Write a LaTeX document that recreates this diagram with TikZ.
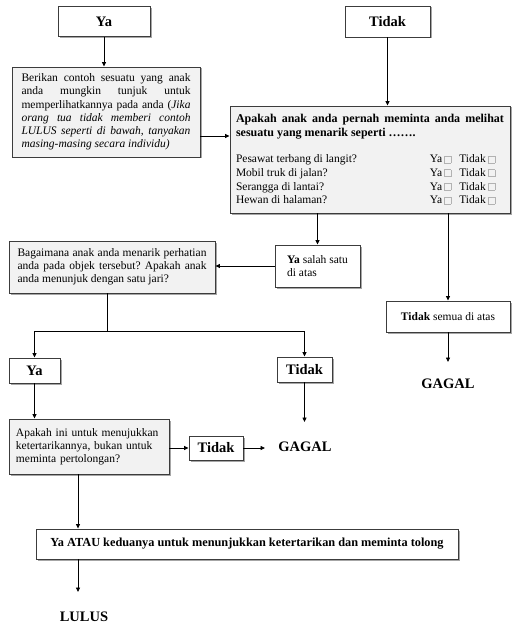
\documentclass[tikz,border=0pt]{standalone}
\usepackage{fontspec}
\setmainfont{Liberation Serif}
\usetikzlibrary{arrows.meta,shadows}
\definecolor{boxgray}{HTML}{F2F2F2}
\definecolor{edgec}{HTML}{3C3C3C}
\frenchspacing
\hyphenpenalty=10000
\exhyphenpenalty=10000
\newcommand\cbx{{\color{gray!60}\setlength\fboxrule{0.4pt}\setlength\fboxsep{0pt}\fbox{\rule{0pt}{6.5pt}\hspace{6.5pt}}}}
\newcommand\yt{\hfill Ya\,\cbx\hspace{8pt}Tidak\,\cbx\rule{9pt}{0pt}}
\begin{document}
\begin{tikzpicture}[x=1pt,y=-1pt,
 box/.style={draw=edgec, line width=0.9pt, fill=white, inner sep=0pt,
   drop shadow={shadow xshift=1.5pt,shadow yshift=-1.5pt,fill=black,opacity=0.35}},
 graybox/.style={box, fill=boxgray},
 conn/.style={draw=black, line width=0.8pt},
 arr/.style={conn, -{Triangle[length=4.5pt,width=4pt]}},
 big/.style={font=\fontsize{14.5}{16}\selectfont\bfseries},
 body/.style={font=\fontsize{11.5}{13.2}\selectfont},
 result/.style={font=\fontsize{14.5}{16}\selectfont\bfseries, inner sep=0pt}
]
\useasboundingbox (0,0) rectangle (526,636);

% top answers
\node[box, big, minimum width=92, minimum height=30] (ya1) at (104,21.5) {Ya};
\node[box, big, minimum width=85, minimum height=31] (tidak1) at (387.5,21.5) {Tidak};

% Berikan box
\node[graybox, body, minimum width=188, minimum height=90, text width=169, align=justify] (berikan) at (106,112)
 {Berikan contoh sesuatu yang anak\linebreak anda mungkin tunjuk untuk\linebreak memperlihatkannya pada anda (\textit{Jika\linebreak orang tua tidak memberi contoh\linebreak LULUS seperti di bawah, tanyakan\linebreak masing-masing secara individu)}};

% main question box
\node[graybox, minimum width=280, minimum height=107, text width=268, align=justify,
  font=\fontsize{11.5}{13.8}\selectfont] (main) at (370,159.5)
 {{\fontsize{12}{13.8}\selectfont\bfseries Apakah anak anda pernah meminta anda melihat\linebreak sesuatu yang menarik seperti …….}\par\vspace{12pt}
 Pesawat terbang di langit?\yt\par
 Mobil truk di jalan?\yt\par
 Serangga di lantai?\yt\par
 Hewan di halaman?\yt};

\node[box, body, minimum width=85, minimum height=42, align=left] (yasalah) at (317.5,266)
 {\textbf{Ya} salah satu\\di atas};
\node[box, body, minimum width=124, minimum height=31] (tidaksemua) at (448,316.5)
 {\textbf{Tidak} semua di atas};
\node[result] (gagal1) at (448,384) {GAGAL};
\coordinate (g1in) at (448,362);

% Bagaimana box
\node[graybox, body, minimum width=206, minimum height=52, text width=189, align=justify] (bagaimana) at (112,267)
 {Bagaimana anak anda menarik perhatian\linebreak anda pada objek tersebut? Apakah anak\linebreak anda menunjuk dengan satu jari?};

\coordinate (split) at (107,331);
\node[box, big, minimum width=51, minimum height=25] (ya2) at (34.5,370.5) {Ya};
\node[box, big, minimum width=55, minimum height=25] (tidak2) at (304.5,369.5) {Tidak};
\node[result] (gagal2) at (305,447) {GAGAL};
\coordinate (g2in) at (304.5,422);

% Apakah box
\node[graybox, body, minimum width=160, minimum height=55, text width=146, align=left] (apakah) at (89,446.5)
 {Apakah ini untuk menujukkan\\ketertarikannya, bukan untuk\\meminta pertolongan?};
\node[box, big, minimum width=54, minimum height=24] (tidak3) at (216,448) {Tidak};
\coordinate (g3in) at (265,448);

% final
\node[box, font=\fontsize{12.3}{14}\selectfont\bfseries, minimum width=422, minimum height=30] (final) at (247,544)
 {Ya ATAU keduanya untuk menunjukkan ketertarikan dan meminta tolong};
\coordinate (xa) at (78,0);
\node[result] (lulus) at (84,617) {LULUS};
\coordinate (lin) at (78,592);

% connectors
\coordinate (ay) at (0,136);
\draw[arr] (ya1.south) -- (berikan.north -| ya1.south);
\draw[arr] (tidak1.south) -- (main.north -| tidak1.south);
\draw[arr] (berikan.east |- ay) -- (main.west |- ay);
\draw[arr] (main.south -| yasalah.north) -- (yasalah.north);
\draw[arr] (main.south -| tidaksemua.north) -- (tidaksemua.north);
\draw[arr] (tidaksemua.south) -- (g1in);
\draw[arr] (yasalah.west) -- (bagaimana.east |- yasalah.west);
\draw[conn] (bagaimana.south -| split) -- (split);
\draw[arr] (split) -| (ya2.north);
\draw[arr] (split) -| (tidak2.north);
\draw[arr] (tidak2.south) -- (g2in);
\draw[arr] (ya2.south) -- (apakah.north -| ya2.south);
\draw[arr] (apakah.east |- tidak3.west) -- (tidak3.west);
\draw[arr] (tidak3.east) -- (g3in);
\draw[arr] (apakah.south -| xa) -- (final.north -| xa);
\draw[arr] (final.south -| xa) -- (lin);
\end{tikzpicture}
\end{document}
